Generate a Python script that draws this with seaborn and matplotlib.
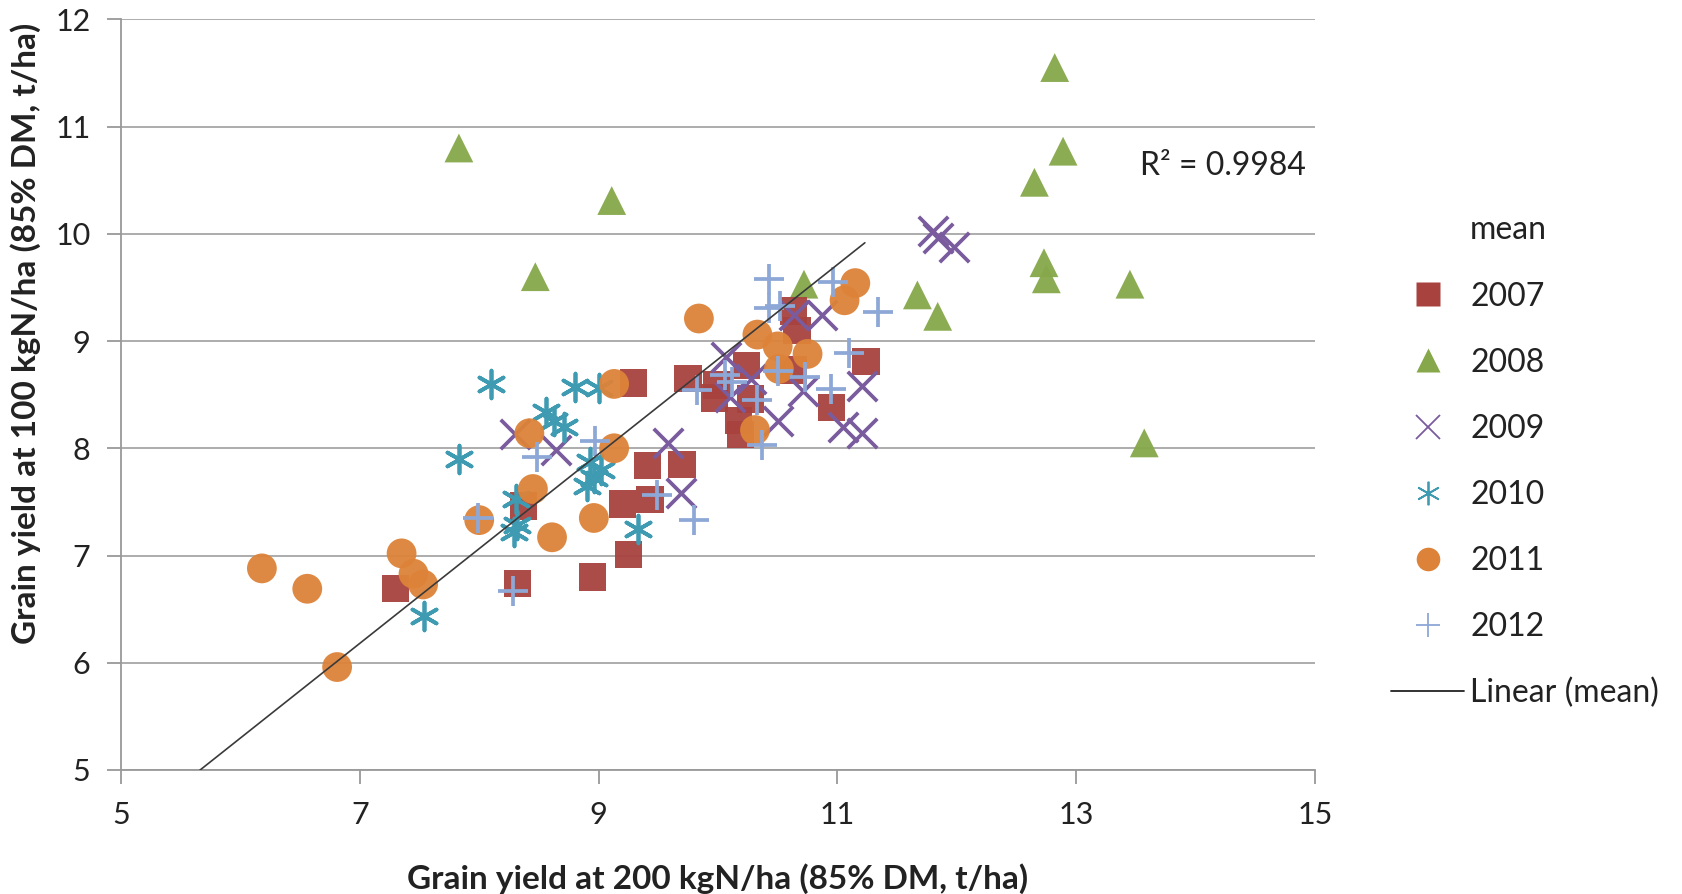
import numpy as np
import pandas as pd
import matplotlib
matplotlib.use("Agg")
import matplotlib.pyplot as plt
from matplotlib.lines import Line2D
import seaborn as sns

# ---- data (t/ha) ----
x2007 = [7.30, 8.32, 8.95, 9.25, 9.20, 9.43, 8.37, 9.41, 9.70, 9.29, 9.75, 9.99, 9.97, 10.17, 10.19, 10.24, 10.27, 10.63, 10.66, 10.63, 10.95, 11.24]
y2007 = [6.69, 6.74, 6.80, 7.01, 7.48, 7.52, 7.46, 7.84, 7.85, 8.61, 8.65, 8.59, 8.47, 8.26, 8.13, 8.77, 8.46, 9.28, 9.10, 8.73, 8.38, 8.81]

x2008 = [7.83, 9.11, 8.47, 12.82, 12.89, 12.65, 12.73, 12.75, 13.45, 11.67, 11.84, 10.72, 13.57]
y2008 = [10.80, 10.31, 9.60, 11.55, 10.77, 10.48, 9.73, 9.58, 9.53, 9.43, 9.23, 9.53, 8.05]

x2009 = [11.80, 11.84, 11.98, 10.64, 10.87, 10.07, 10.28, 10.10, 10.71, 11.21, 11.05, 11.21, 9.58, 9.69, 8.30, 8.64, 10.50]
y2009 = [10.03, 9.96, 9.88, 9.24, 9.24, 8.85, 8.65, 8.48, 8.53, 8.58, 8.20, 8.14, 8.05, 7.58, 8.13, 7.98, 8.25]

x2010 = [7.83, 8.10, 7.54, 8.31, 8.32, 8.29, 8.56, 8.63, 8.71, 8.80, 9.00, 8.93, 8.96, 8.90, 9.33, 9.02]
y2010 = [7.90, 8.60, 6.44, 7.53, 7.28, 7.22, 8.34, 8.25, 8.20, 8.57, 8.56, 7.87, 7.72, 7.65, 7.25, 7.80]

x2011 = [6.18, 6.56, 6.81, 7.35, 7.45, 7.53, 8.00, 8.42, 8.45, 8.61, 8.96, 9.13, 9.13, 9.84, 10.33, 10.31, 10.50, 10.51, 10.75, 11.06, 11.15]
y2011 = [6.88, 6.69, 5.96, 7.02, 6.83, 6.73, 7.33, 8.14, 7.62, 7.17, 7.35, 8.60, 8.00, 9.21, 9.06, 8.17, 8.95, 8.74, 8.88, 9.38, 9.54]

x2012 = [7.99, 8.28, 8.48, 8.97, 9.49, 9.80, 9.82, 10.06, 10.12, 10.33, 10.37, 10.43, 10.43, 10.52, 10.50, 10.73, 10.96, 10.95, 11.10, 11.34]
y2012 = [7.35, 6.67, 7.92, 8.07, 7.56, 7.33, 8.54, 8.68, 8.62, 8.45, 8.03, 9.58, 9.31, 9.33, 8.72, 8.66, 9.55, 8.55, 8.89, 9.27]

years = ["2007", "2008", "2009", "2010", "2011", "2012"]

# linear trend of the 'mean' series
trend_slope = 0.883
trend_intercept = 0.0
trend_x_range = [5.66, 11.23]
r2_text = "R² = 0.9984"

xticks = [5, 7, 9, 11, 13, 15]
yticks = [5, 6, 7, 8, 9, 10, 11, 12]
xlabel = "Grain yield at 200 kgN/ha (85% DM, t/ha)"
ylabel = "Grain yield at 100 kgN/ha (85% DM, t/ha)"

# ---- style ----
sns.set_style("white")
plt.rcParams["font.family"] = ["Lato", "DejaVu Sans"]

colors = {"2007": "#A8423F", "2008": "#86A84A", "2009": "#7A5C9E",
          "2010": "#3E9BB2", "2011": "#DD8339", "2012": "#8DA8D6"}
markers = {"2007": "s", "2008": "^", "2009": "x", "2010": (6, 2, 0),
           "2011": "o", "2012": "+"}
sizes = {"2007": 390, "2008": 430, "2009": 450, "2010": 400, "2011": 460, "2012": 450}

xs = {"2007": x2007, "2008": x2008, "2009": x2009, "2010": x2010, "2011": x2011, "2012": x2012}
ys = {"2007": y2007, "2008": y2008, "2009": y2009, "2010": y2010, "2011": y2011, "2012": y2012}

fig = plt.figure(figsize=(16.82, 8.94), dpi=100)
ax = fig.add_axes([121 / 1682, 1 - 770 / 894, (1315 - 121) / 1682, (770 - 19.3) / 894])

draw_order = ["2008", "2007", "2009", "2010", "2011", "2012"]
for yr in draw_order:
    df = pd.DataFrame({"x": xs[yr], "y": ys[yr]})
    m = markers[yr]
    filled = m in ("s", "^", "o")
    if filled:
        sns.scatterplot(data=df, x="x", y="y", ax=ax, marker=m, s=sizes[yr],
                        color=colors[yr], edgecolor="none", alpha=0.95, zorder=3)
    else:
        sns.scatterplot(data=df, x="x", y="y", ax=ax, marker=m, s=sizes[yr],
                        color=colors[yr], linewidth=2.7, zorder=3)

tx = np.array(trend_x_range)
ax.plot(tx, trend_slope * tx + trend_intercept, color="#3a3a3a", lw=1.2, zorder=4)

ax.text(14.92, 10.63, r2_text, ha="right", va="center", fontsize=23, color="#222222")

ax.set_xlim(5, 15)
ax.set_ylim(5, 12)
ax.set_xticks(xticks)
ax.set_yticks(yticks)
ax.grid(axis="y", color="#A6A6A6", lw=1.3)
ax.grid(axis="x", visible=False)
for s in ["top", "right"]:
    ax.spines[s].set_visible(False)
for s in ["left", "bottom"]:
    ax.spines[s].set_color("#999999")
    ax.spines[s].set_linewidth(1.3)
ax.tick_params(axis="both", which="major", direction="out", length=10, width=1.3,
               color="#999999", labelsize=22, labelcolor="#222222", pad=12,
               bottom=True, left=True)
ax.set_axisbelow(True)

ax.set_xlabel(xlabel, fontsize=24, fontweight="bold", color="#222222")
ax.xaxis.set_label_coords(0.5, -0.124)
ax.xaxis.label.set_va("top")
ax.set_ylabel(ylabel, fontsize=24, fontweight="bold", color="#222222")
ax.yaxis.set_label_coords(-0.067, 0.582)

# legend
handles = [Line2D([], [], linestyle="none", marker=None)]
labels = ["mean"]
for yr in years:
    m = markers[yr]
    if m in ("s", "^", "o"):
        h = Line2D([], [], linestyle="none", marker=m, markersize=17,
                   markerfacecolor=colors[yr], markeredgecolor="none")
    else:
        h = Line2D([], [], linestyle="none", marker=m, markersize=17,
                   color=colors[yr], markeredgewidth=1.3)
    handles.append(h)
    labels.append(yr)
handles.append(Line2D([], [], color="#222222", lw=1.3))
labels.append("Linear (mean)")

leg = fig.legend(handles, labels, loc="center left", bbox_to_anchor=(1391 / 1682, 1 - 462 / 894),
                 frameon=False, fontsize=23, handlelength=2.29, handletextpad=0.19,
                 labelspacing=1.13, borderpad=0, borderaxespad=0)
for t in leg.get_texts():
    t.set_color("#222222")

fig.savefig("out.png", dpi=100)
